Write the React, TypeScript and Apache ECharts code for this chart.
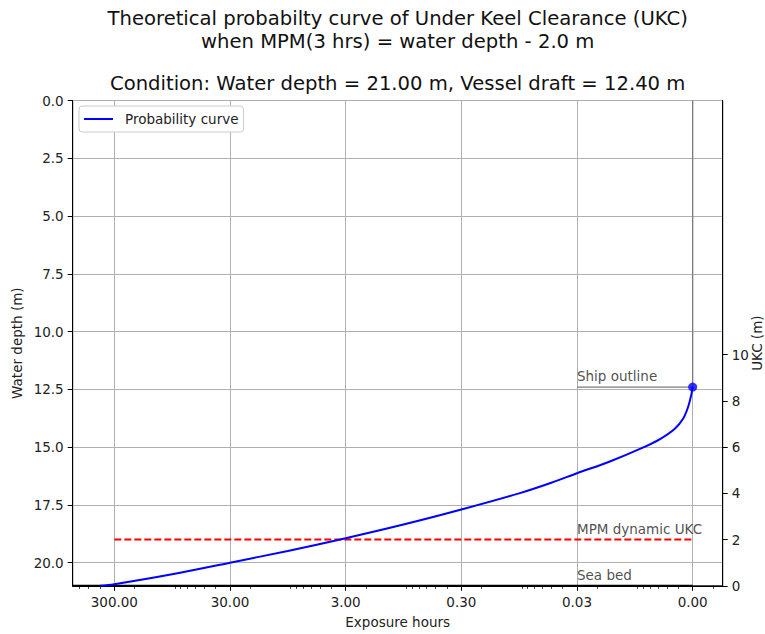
import React, { useEffect, useRef } from 'react';
import * as echarts from 'echarts';

// ---- Data ----
const exposureHours = [399, 300, 95, 30, 9.5, 3.0, 0.95, 0.3, 0.095, 0.05, 0.03, 0.0156, 0.008, 0.00575, 0.00428, 0.00362, 0.00327, 0.00306, 0.003];
const waterDepth = [21.0, 20.93, 20.5, 20.0, 19.49, 18.94, 18.35, 17.7, 17.0, 16.54, 16.13, 15.62, 15.01, 14.65, 14.2, 13.76, 13.23, 12.66, 12.4];

const xTickHours = [300, 30, 3, 0.3, 0.03, 0.003];
const depthTicks = [0, 2.5, 5, 7.5, 10, 12.5, 15, 17.5, 20];
const ukcTicks = [0, 2, 4, 6, 8, 10];

const waterDepthTotal = 21.0;
const vesselDraft = 12.4;
const mpmDepth = 19.0;
const mpmStartHours = 300;
const markerHours = 0.003;
const annotationHours = 0.03;
const seaBedStartHours = 687;
const axisHoursMin = 0.00165;
const axisHoursMax = 687;

const annotationTexts = ['Ship outline', 'MPM dynamic UKC', 'Sea bed'];
const annotationDepths = [vesselDraft, mpmDepth, waterDepthTotal];

const titleLines = [
  'Theoretical probabilty curve of Under Keel Clearance (UKC)',
  'when MPM(3 hrs) = water depth - 2.0 m',
];
const conditionText = 'Condition: Water depth = 21.00 m, Vessel draft = 12.40 m';

const FONT = 'DejaVu Sans';
const lg = (v: number) => Math.log10(v);

const minorTickHours: number[] = [];
for (let e = -3; e <= 2; e++) {
  for (const m of [2, 4, 5, 6, 7, 8, 9]) {
    const v = m * Math.pow(10, e);
    if (v > axisHoursMin && v < axisHoursMax) minorTickHours.push(v);
  }
}

export default function App() {
  const ref = useRef<HTMLDivElement>(null);
  useEffect(() => {
    if (!ref.current) return;
    const chart = echarts.init(ref.current, null, { renderer: 'svg' });
    const textBase = { fontFamily: FONT, fontSize: 13.5, color: '#222' };
    const titleStyle = { fontFamily: FONT, fontSize: 19.6, fontWeight: 'normal', color: '#111', lineHeight: 23 };
    const option: any = {
      animation: false,
      backgroundColor: '#fff',
      title: [
        {
          text: titleLines.join('\n'),
          left: 397.7,
          textAlign: 'center',
          top: 6.5,
          padding: 0,
          textStyle: titleStyle,
        },
        {
          text: conditionText,
          left: 397.7,
          textAlign: 'center',
          top: 71.5,
          padding: 0,
          textStyle: titleStyle,
        },
      ],
      legend: {
        data: [{ name: 'Probability curve', icon: 'rect' }],
        left: 79,
        top: 106,
        orient: 'vertical',
        padding: [6, 5, 6, 5],
        itemWidth: 29,
        itemHeight: 2,
        backgroundColor: '#fff',
        borderColor: '#cccccc',
        borderWidth: 1,
        borderRadius: 3,
        itemStyle: { color: '#0000ff' },
        textStyle: { ...textBase, color: '#222', lineHeight: 14, padding: [0, 0, 0, 7] },
      },
      grid: {
        left: 72.7,
        right: 42.3,
        top: 100.5,
        bottom: 48.2,
        show: true,
        borderColor: '#000',
        borderWidth: 1,
        containLabel: false,
        outerBoundsMode: 'none',
      },
      xAxis: [
        {
          type: 'value',
          min: lg(axisHoursMin),
          max: lg(axisHoursMax),
          inverse: true,
          position: 'bottom',
          name: 'Exposure hours',
          nameLocation: 'middle',
          nameGap: 29,
          nameMoveOverlap: false,
          nameTextStyle: { ...textBase },
          axisLine: { show: true, onZero: false, lineStyle: { color: '#000', width: 1 } },
          axisTick: { show: true, customValues: xTickHours.map(lg), length: 5, lineStyle: { color: '#000', width: 1 } },
          axisLabel: {
            ...textBase,
            customValues: xTickHours.map(lg),
            formatter: (v: number) => Math.pow(10, v).toFixed(2),
            margin: 9,
          },
          splitLine: { show: true, lineStyle: { color: '#b0b0b0', width: 1 } },
        },
        {
          type: 'value',
          min: lg(axisHoursMin),
          max: lg(axisHoursMax),
          inverse: true,
          position: 'bottom',
          axisLine: { show: false, onZero: false },
          axisTick: { show: true, customValues: minorTickHours.map(lg), length: 3, lineStyle: { color: '#000', width: 0.8 } },
          axisLabel: { show: false },
          splitLine: { show: false },
        },
      ],
      yAxis: [
        {
          type: 'value',
          inverse: true,
          min: 0,
          max: waterDepthTotal,
          position: 'left',
          name: 'Water depth (m)',
          nameLocation: 'middle',
          nameGap: 49,
          nameRotate: 90,
          nameMoveOverlap: false,
          nameTextStyle: { ...textBase },
          axisLine: { show: true, onZero: false, lineStyle: { color: '#000', width: 1 } },
          axisTick: { show: true, customValues: depthTicks, length: 5, lineStyle: { color: '#000', width: 1 } },
          axisLabel: { ...textBase, customValues: depthTicks, formatter: (v: number) => v.toFixed(1), margin: 9 },
          splitLine: { show: true, lineStyle: { color: '#b0b0b0', width: 1 } },
        },
        {
          type: 'value',
          min: 0,
          max: waterDepthTotal,
          position: 'right',
          name: 'UKC (m)',
          nameLocation: 'middle',
          nameGap: 27,
          nameRotate: 90,
          nameMoveOverlap: false,
          nameTextStyle: { ...textBase },
          axisLine: { show: true, onZero: false, lineStyle: { color: '#000', width: 1 } },
          axisTick: { show: true, customValues: ukcTicks, length: 5, lineStyle: { color: '#000', width: 1 } },
          axisLabel: { ...textBase, customValues: ukcTicks, formatter: (v: number) => String(v), margin: 9 },
          splitLine: { show: false },
        },
      ],
      series: [
        {
          name: 'Ship hull',
          type: 'line',
          data: [[lg(markerHours), 0], [lg(markerHours), vesselDraft]],
          showSymbol: false,
          lineStyle: { color: '#7a7a7a', width: 1.3 },
          silent: true,
          z: 3,
        },
        {
          name: 'Ship outline',
          type: 'line',
          data: [[lg(annotationHours), vesselDraft], [lg(markerHours), vesselDraft]],
          showSymbol: false,
          lineStyle: { color: '#7a7a7a', width: 1.3 },
          silent: true,
          z: 3,
        },
        {
          name: 'MPM dynamic UKC',
          type: 'line',
          data: [[lg(mpmStartHours), mpmDepth], [lg(markerHours), mpmDepth]],
          showSymbol: false,
          lineStyle: { color: '#ff0000', width: 2, type: [7, 3] },
          silent: true,
          z: 4,
        },
        {
          name: 'Sea bed',
          type: 'line',
          data: [[lg(seaBedStartHours), waterDepthTotal], [lg(markerHours), waterDepthTotal]],
          showSymbol: false,
          clip: false,
          lineStyle: { color: '#000', width: 2.2 },
          silent: true,
          z: 4,
        },
        {
          name: 'Probability curve',
          type: 'line',
          data: exposureHours.map((h, i) => [lg(h), waterDepth[i]]),
          showSymbol: false,
          smooth: 0.35,
          clip: false,
          lineStyle: { color: '#0000ff', width: 2 },
          itemStyle: { color: '#0000ff' },
          z: 6,
        },
        {
          name: 'Ship point',
          type: 'scatter',
          data: [[lg(markerHours), vesselDraft]],
          symbolSize: 9,
          itemStyle: { color: '#0000ff' },
          clip: false,
          z: 7,
        },
        {
          name: 'Annotations',
          type: 'scatter',
          data: annotationDepths.map((d, i) => ({ value: [lg(annotationHours), d], name: annotationTexts[i] })),
          symbolSize: 0,
          clip: false,
          label: {
            show: true,
            position: 'top',
            align: 'left',
            distance: 3,
            formatter: (p: any) => p.name,
            ...textBase,
            lineHeight: 16,
          },
          z: 8,
        },
      ],
    };
    chart.setOption(option);
    return () => chart.dispose();
  }, []);
  return (
    <div
      ref={ref}
      style={{ position: 'fixed', left: 0, top: 0, width: 765, height: 634, background: '#fff' }}
    />
  );
}
